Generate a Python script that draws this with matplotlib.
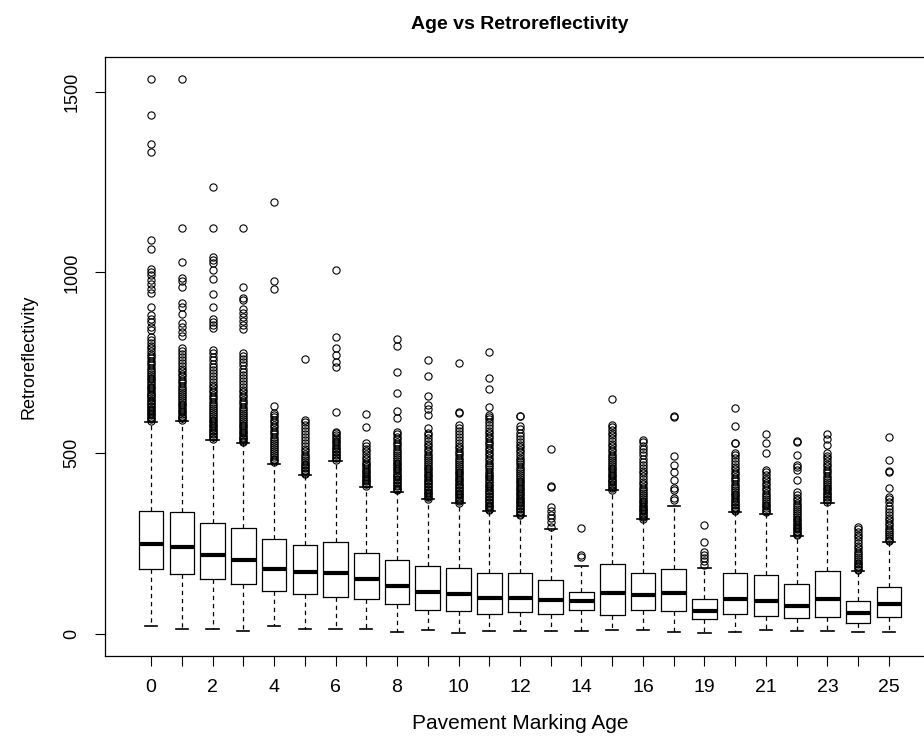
import matplotlib
matplotlib.use("Agg")
import matplotlib.pyplot as plt

plt.rcParams['font.family'] = ['Liberation Sans', 'DejaVu Sans']

# Box plot data
ages = ['0', '1', '2', '3', '4', '5', '6', '7', '8', '9', '10', '11', '12',
        '13', '14', '15', '16', '18', '19', '20', '21', '22', '23', '24', '25']
medians = [249, 241, 218, 205, 179, 171, 168, 151, 133, 116, 111, 100, 100,
           94, 91, 113, 108, 114, 64, 97, 91, 76, 98, 57, 82]
q1 = [179, 167, 151, 139, 119, 111, 103, 97, 82, 66, 63, 54, 60,
      54, 66, 53, 66, 64, 41, 54, 50, 43, 46, 31, 47]
q3 = [341, 338, 306, 294, 262, 246, 255, 223, 205, 189, 182, 168, 168,
      149, 116, 193, 168, 180, 98, 168, 164, 139, 173, 91, 129]
whisk_lo = [22, 13, 13, 9, 22, 15, 13, 13, 6, 10, 4, 7, 7,
            7, 7, 10, 10, 6, 4, 6, 12, 9, 9, 6, 6]
whisk_hi = [585, 588, 537, 527, 471, 439, 479, 407, 394, 372, 361, 340, 327,
            291, 189, 397, 317, 355, 183, 338, 333, 271, 363, 173, 253]

# outliers per age group
fliers = [
    [590, 594, 597, 601, 605, 608, 612, 616, 620, 623, 627, 631, 635, 640, 644,
     648, 652, 657, 661, 665, 670, 675, 679, 684, 689, 694, 699, 704, 709, 714,
     720, 726, 731, 737, 743, 749, 755, 762, 768, 775, 782, 790, 797, 805, 813,
     822, 841, 850, 862, 872, 882, 905, 942, 955, 968, 980, 992, 1001, 1010,
     1064, 1090, 1333, 1355, 1435, 1535],
    [592, 596, 600, 604, 609, 613, 618, 622, 627, 632, 637, 642, 647, 652, 658,
     663, 669, 675, 681, 687, 693, 700, 706, 713, 720, 727, 734, 742, 750, 758,
     766, 774, 782, 790, 824, 835, 848, 861, 885, 905, 915, 961, 977, 985, 1030,
     1124, 1535],
    [540, 544, 548, 552, 556, 561, 565, 569, 574, 578, 583, 588, 593, 598, 603,
     608, 613, 619, 625, 631, 637, 643, 649, 656, 662, 669, 676, 683, 690, 698,
     706, 714, 722, 730, 739, 748, 757, 766, 776, 786, 845, 855, 864, 872, 905,
     941, 982, 1007, 1025, 1035, 1044, 1124, 1237],
    [530, 534, 538, 542, 546, 551, 555, 560, 564, 569, 574, 579, 584, 589, 594,
     600, 605, 611, 617, 623, 629, 635, 642, 648, 655, 662, 669, 676, 684, 692,
     700, 708, 716, 725, 734, 743, 752, 761, 769, 777, 844, 855, 866, 878, 889,
     899, 925, 930, 961, 1124],
    [475, 480, 485, 490, 495, 500, 506, 511, 517, 522, 528, 534, 540, 546, 552,
     558, 565, 572, 579, 586, 593, 600, 605, 612, 631, 955, 975, 1194],
    [442, 446, 450, 454, 458, 462, 467, 471, 476, 481, 486, 492, 498, 505, 512,
     520, 528, 536, 545, 553, 562, 570, 578, 585, 592, 761],
    [482, 486, 490, 494, 498, 502, 506, 511, 515, 520, 525, 530, 535, 540, 545,
     550, 555, 560, 615, 739, 753, 772, 790, 822, 1007],
    [410, 414, 418, 422, 426, 430, 434, 438, 442, 447, 451, 456, 461, 466, 471,
     477, 483, 490, 497, 505, 513, 521, 529, 572, 609],
    [397, 401, 405, 409, 413, 417, 421, 425, 429, 433, 437, 441, 446, 450, 455,
     459, 464, 469, 474, 479, 484, 490, 495, 501, 507, 513, 519, 526, 532, 539,
     546, 553, 560, 597, 617, 666, 726, 797, 815],
    [374, 378, 382, 386, 390, 394, 398, 402, 406, 410, 414, 418, 422, 427, 431,
     436, 440, 445, 450, 455, 460, 465, 470, 476, 481, 487, 493, 499, 505, 512,
     519, 526, 533, 541, 549, 557, 569, 606, 622, 632, 658, 713, 758],
    [363, 367, 371, 375, 379, 383, 387, 391, 395, 399, 403, 407, 411, 416, 420,
     425, 429, 434, 439, 444, 449, 454, 459, 464, 470, 476, 482, 488, 494, 500,
     507, 514, 521, 528, 536, 544, 552, 561, 569, 578, 610, 615, 749],
    [342, 346, 350, 354, 358, 362, 366, 370, 374, 378, 382, 386, 390, 395, 399,
     404, 408, 413, 418, 423, 428, 433, 438, 443, 449, 455, 461, 467, 473, 480,
     487, 494, 501, 508, 515, 522, 528, 535, 541, 548, 555, 562, 569, 577, 585,
     594, 601, 606, 627, 678, 709, 779],
    [329, 333, 337, 341, 345, 349, 353, 357, 361, 365, 369, 373, 377, 382, 386,
     391, 395, 400, 404, 409, 414, 419, 424, 429, 434, 440, 445, 451, 457, 463,
     469, 475, 481, 488, 495, 502, 509, 516, 524, 532, 540, 548, 557, 566, 575,
     602, 603],
    [297, 311, 320, 329, 340, 352, 407, 408, 511],
    [212, 218, 292],
    [399, 403, 407, 411, 415, 419, 423, 427, 432, 436, 441, 445, 450, 455, 460,
     465, 470, 476, 481, 487, 493, 499, 505, 512, 519, 526, 533, 541, 549, 557,
     565, 572, 578, 650],
    [319, 323, 327, 331, 335, 339, 343, 347, 351, 355, 360, 364, 369, 374, 379,
     384, 390, 395, 401, 407, 414, 421, 428, 436, 444, 452, 460, 468, 476, 485,
     494, 503, 512, 521, 530, 537],
    [371, 375, 398, 403, 426, 449, 468, 491, 600, 602],
    [191, 201, 210, 219, 228, 254, 301],
    [340, 344, 348, 352, 356, 360, 365, 369, 374, 378, 383, 388, 393, 398, 404,
     410, 416, 422, 428, 435, 442, 449, 456, 463, 471, 479, 487, 494, 500, 527,
     528, 576, 624],
    [336, 340, 344, 349, 353, 358, 363, 368, 373, 379, 385, 391, 397, 404, 411,
     418, 425, 432, 440, 447, 454, 500, 527, 552],
    [273, 277, 281, 285, 289, 293, 297, 301, 305, 310, 314, 319, 324, 329, 334,
     339, 345, 351, 357, 363, 370, 377, 385, 394, 426, 454, 461, 468, 495, 532,
     533],
    [366, 370, 374, 378, 382, 386, 391, 395, 400, 405, 410, 415, 420, 426, 432,
     438, 444, 450, 457, 464, 471, 478, 486, 493, 500, 523, 540, 552],
    [177, 181, 185, 189, 193, 197, 202, 207, 212, 218, 224, 230, 237, 244, 251,
     259, 267, 275, 283, 290, 297],
    [256, 261, 266, 271, 276, 282, 288, 294, 300, 307, 314, 322, 330, 338, 346,
     355, 364, 372, 380, 403, 449, 450, 481, 546],
]

stats = []
for i in range(len(ages)):
    stats.append({'med': medians[i], 'q1': q1[i], 'q3': q3[i],
                  'whislo': whisk_lo[i], 'whishi': whisk_hi[i],
                  'fliers': fliers[i], 'label': ages[i]})

positions = list(range(1, len(ages) + 1))

fig = plt.figure(figsize=(9.24, 7.44), dpi=100)
# right edge of the plot region is cut off in the reference
ax = fig.add_axes([105 / 924, 88 / 744, 830 / 924, 599 / 744])

ax.bxp(stats, positions=positions, widths=0.8, capwidths=0.4,
       boxprops=dict(color='black', linewidth=0.9),
       medianprops=dict(color='black', linewidth=3),
       whiskerprops=dict(color='black', linewidth=0.9, linestyle=(0, (3.5, 3))),
       capprops=dict(color='black', linewidth=1.2),
       flierprops=dict(marker='o', markerfacecolor='none',
                       markeredgecolor='black', markersize=5.2,
                       markeredgewidth=0.8))

ax.set_xlim(-0.5, 26.5)
ax.set_ylim(-61, 1596)

# every box gets a tick, only every other one a label
ax.set_xticks(positions)
ax.set_xticklabels([a if i % 2 == 0 else '' for i, a in enumerate(ages)],
                   fontsize=14)
ax.set_yticks([0, 500, 1000, 1500])
ax.set_yticklabels(['0', '500', '1000', '1500'], fontsize=13,
                   rotation=90, va='center')
ax.tick_params(axis='both', direction='out', length=7.5, width=0.8)
ax.tick_params(axis='x', pad=9.4)
ax.tick_params(axis='y', pad=10.3)

for sp in ax.spines.values():
    sp.set_linewidth(0.9)

ax.set_xlabel('Pavement Marking Age', fontsize=15, labelpad=12.5)
ax.set_ylabel('Retroreflectivity', fontsize=13)
ax.yaxis.set_label_coords(-0.0816, 0.5)
ax.set_title('Age vs Retroreflectivity', fontsize=14, fontweight='bold',
             pad=20)

fig.savefig('out.png', dpi=100)
